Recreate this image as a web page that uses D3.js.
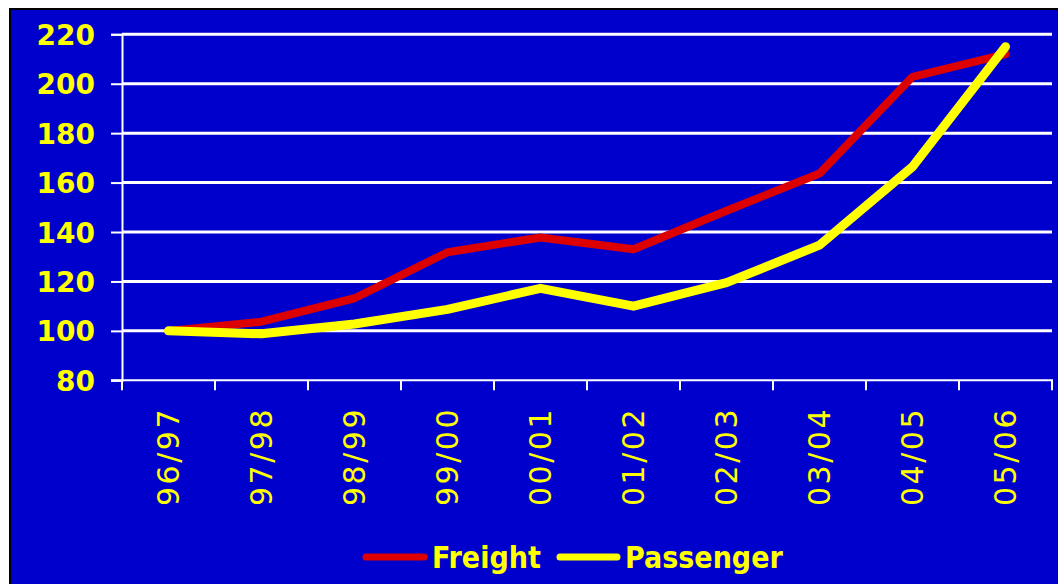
<!DOCTYPE html>
<html>
<head>
<meta charset="utf-8">
<script src="https://cdn.jsdelivr.net/npm/d3@7"></script>
<style>
  html, body { margin: 0; padding: 0; background: #ffffff; }
  svg { display: block; }
</style>
</head>
<body>
<div id="chart"></div>
<script>
// Rail traffic index (96/97 = 100)
const years = ["96/97", "97/98", "98/99", "99/00", "00/01", "01/02", "02/03", "03/04", "04/05", "05/06"];
const freight = [100, 103.7, 113.2, 131.8, 137.8, 133, 148.6, 163.7, 202.8, 212];
const passenger = [100, 98.8, 102.8, 108.7, 117.2, 110, 119.5, 134.7, 166.4, 215];
const yTicks = [80, 100, 120, 140, 160, 180, 200, 220];
const seriesNames = ["Freight", "Passenger"];

const W = 1058, H = 584;
const plot = { left: 122, right: 1052, top: 34.3, bottom: 380.3 };
const BLUE = "#0000cc", RED = "#dd0000", YELLOW = "#ffff00", WHITE = "#ffffff";

const svg = d3.select("#chart").append("svg")
  .attr("width", W).attr("height", H);

// Panel background with dark border
svg.append("rect")
  .attr("x", 10).attr("y", 9)
  .attr("width", W + 20).attr("height", H + 20)
  .attr("fill", BLUE)
  .attr("stroke", "#000000").attr("stroke-width", 2);

const x = d3.scalePoint().domain(years).range([plot.left, plot.right]).padding(0.5);
const xBand = d3.scaleBand().domain(years).range([plot.left, plot.right]);
const y = d3.scaleLinear().domain([80, 220]).range([plot.bottom, plot.top]);

// Horizontal gridlines
svg.append("g")
  .selectAll("line")
  .data(yTicks.filter(v => v > 80))
  .join("line")
  .attr("x1", plot.left).attr("x2", plot.right)
  .attr("y1", d => y(d)).attr("y2", d => y(d))
  .attr("stroke", WHITE).attr("stroke-width", 3);

// Y axis
const yAxis = svg.append("g")
  .attr("transform", `translate(${plot.left},0)`)
  .call(d3.axisLeft(y).tickValues(yTicks).tickSize(11).tickPadding(16).tickFormat(d3.format("d")));
yAxis.select(".domain").attr("stroke", WHITE).attr("stroke-width", 2);
yAxis.selectAll(".tick line").attr("stroke", WHITE).attr("stroke-width", 2);
yAxis.selectAll(".tick text")
  .attr("fill", YELLOW)
  .attr("font-family", "'DejaVu Sans', Verdana, sans-serif")
  .attr("font-weight", "bold")
  .attr("font-size", 28)
  .attr("dy", "0.36em");

// X axis: ticks on category boundaries
const bounds = years.map(d => xBand(d)).concat([plot.right]);
const xAxisG = svg.append("g");
xAxisG.append("line")
  .attr("x1", plot.left - 11).attr("x2", plot.right + 1)
  .attr("y1", plot.bottom).attr("y2", plot.bottom)
  .attr("stroke", WHITE).attr("stroke-width", 2);
xAxisG.selectAll("line.tk")
  .data(bounds)
  .join("line")
  .attr("class", "tk")
  .attr("x1", d => d).attr("x2", d => d)
  .attr("y1", plot.bottom).attr("y2", plot.bottom + 10)
  .attr("stroke", WHITE).attr("stroke-width", 2);

// Rotated category labels
xAxisG.selectAll("text")
  .data(years)
  .join("text")
  .attr("transform", d => `translate(${x(d)},407) rotate(-90)`)
  .attr("text-anchor", "end")
  .attr("dy", "0.36em")
  .attr("fill", YELLOW)
  .attr("font-family", "'DejaVu Sans', Verdana, sans-serif")
  .attr("font-size", 30)
  .attr("letter-spacing", 2.5)
  .text(d => d);

// Series lines
const line = d3.line()
  .x((d, i) => x(years[i]))
  .y(d => y(d));

svg.append("path")
  .datum(freight)
  .attr("d", line)
  .attr("fill", "none")
  .attr("stroke", RED).attr("stroke-width", 8)
  .attr("stroke-linejoin", "round").attr("stroke-linecap", "round");

svg.append("path")
  .datum(passenger)
  .attr("d", line)
  .attr("fill", "none")
  .attr("stroke", YELLOW).attr("stroke-width", 9)
  .attr("stroke-linejoin", "round").attr("stroke-linecap", "round");

// Legend
const legendItems = [
  { name: seriesNames[0], color: RED, x1: 366, x2: 424, w: 7, tx: 432 },
  { name: seriesNames[1], color: YELLOW, x1: 560, x2: 617, w: 7, tx: 625 }
];
const lg = svg.append("g");
legendItems.forEach(it => {
  lg.append("line")
    .attr("x1", it.x1).attr("x2", it.x2)
    .attr("y1", 557).attr("y2", 557)
    .attr("stroke", it.color).attr("stroke-width", it.w)
    .attr("stroke-linecap", "round");
  lg.append("text")
    .attr("x", it.tx).attr("y", 568)
    .attr("fill", YELLOW)
    .attr("font-family", "'DejaVu Sans Condensed', 'DejaVu Sans', sans-serif")
    .attr("font-weight", "bold")
    .attr("font-size", 30)
    .text(it.name);
});
</script>
</body>
</html>
